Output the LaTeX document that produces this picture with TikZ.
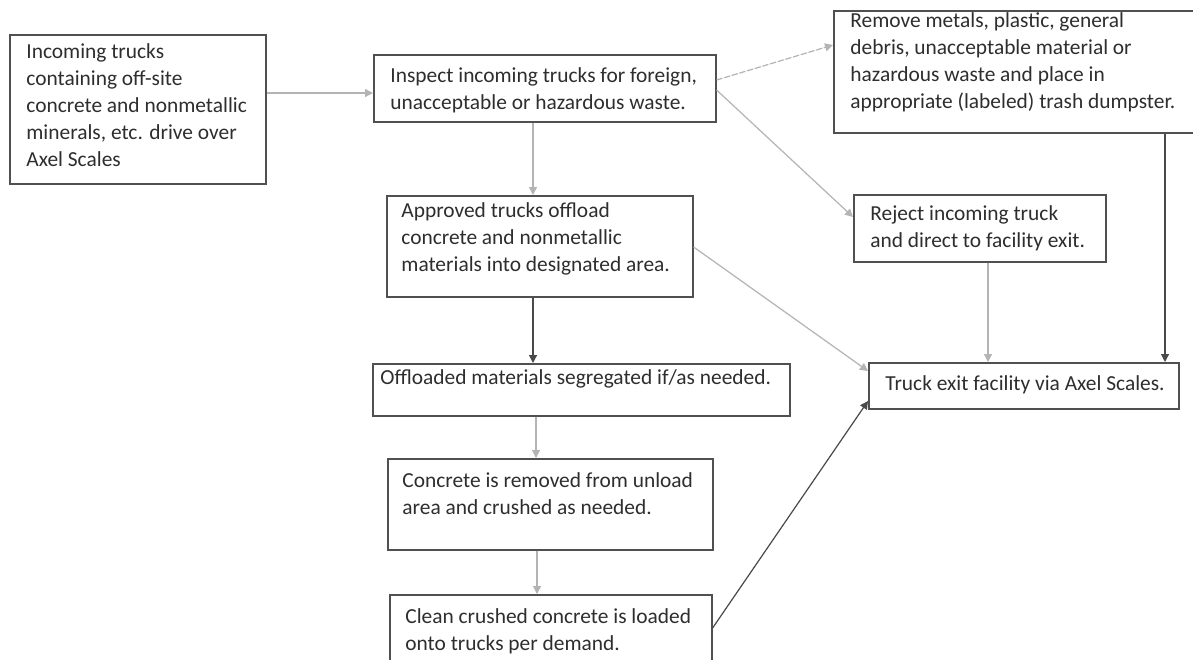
\documentclass[tikz,border=0pt]{standalone}
\usepackage{fontspec}
\setmainfont{Carlito}
\usetikzlibrary{arrows.meta}
\definecolor{boxc}{HTML}{505050}
\definecolor{txtc}{HTML}{2E2E2E}
\definecolor{lightc}{HTML}{B4B4B4}
\definecolor{darkc}{HTML}{4A4A4A}
\tikzset{
  stepbox/.style={draw=boxc, line width=0.8pt, rectangle, inner sep=0pt, anchor=north west},
  lbl/.style={anchor=north west, inner sep=0pt, align=left, text=txtc,
    font=\fontsize{10.7pt}{13.5pt}\selectfont},
  tipx/.style={-{Triangle[length=4pt,width=4pt]}},
  lt/.style={tipx, draw=lightc, fill=lightc, line width=0.6pt},
  dk/.style={tipx, draw=darkc, fill=darkc, line width=0.6pt},
}
\begin{document}
\begin{tikzpicture}[x=0.5pt,y=-0.5pt]
\useasboundingbox (0,0) rectangle (1193,659);
\fill[white] (0,0) rectangle (1193,659);
% boxes
\node[stepbox, minimum width=256*0.5pt, minimum height=149*0.5pt] (b1) at (9,34) {};
\node[stepbox, minimum width=342*0.5pt, minimum height=67*0.5pt] (b2) at (373,54) {};
\node[stepbox, minimum width=364*0.5pt, minimum height=122*0.5pt] (rem) at (833,10) {};
\node[stepbox, minimum width=252*0.5pt, minimum height=67*0.5pt] (rej) at (853,194) {};
\node[stepbox, minimum width=306*0.5pt, minimum height=101*0.5pt] (appr) at (386,195) {};
\node[stepbox, minimum width=417*0.5pt, minimum height=52*0.5pt] (off) at (372,363) {};
\node[stepbox, minimum width=325*0.5pt, minimum height=91*0.5pt] (conc) at (387,458) {};
\node[stepbox, minimum width=322*0.5pt, minimum height=76*0.5pt] (clean) at (389,594) {};
\node[stepbox, minimum width=310*0.5pt, minimum height=46*0.5pt] (exit) at (868,362) {};
% texts
\node[lbl] (t1) at (26,43) {Incoming trucks\\containing off-site\\concrete and nonmetallic\\minerals, etc. drive over\\Axel Scales};
\node[lbl] (t2) at (390,67) {Inspect incoming trucks for foreign,\\unacceptable or hazardous waste.};
\node[lbl] (trem) at (850,12) {Remove metals, plastic, general\\debris, unacceptable material or\\hazardous waste and place in\\appropriate (labeled) trash dumpster.};
\node[lbl] (trej) at (870,205) {Reject incoming truck\\and direct to facility exit.};
\node[lbl] (tappr) at (401,202) {Approved trucks offload\\concrete and nonmetallic\\materials into designated area.};
\node[lbl] (toff) at (380,369) {Offloaded materials segregated if/as needed.};
\node[lbl] (tconc) at (402,472) {Concrete is removed from unload\\area and crushed as needed.};
\node[lbl] (tclean) at (405,608) {Clean crushed concrete is loaded\\onto trucks per demand.};
\node[lbl] (texit) at (885,375) {Truck exit facility via Axel Scales.};
% connectors
\draw[lt] (b1.east |- 0,93) -- (b2.west |- 0,93);
\draw[lt] (b2.south -| 533,0) -- (appr.north -| 533,0);
\draw[lt, dashed, dash pattern=on 3pt off 1pt] (b2.east |- 0,80) -- (rem.west |- 0,45);
\draw[lt] (b2.east |- 0,90) -- (rej.west |- 0,217);
\draw[dk] (rem.south -| 1165,0) -- (exit.north -| 1165,0);
\draw[lt] (rej.south -| 988,0) -- (exit.north -| 988,0);
\draw[dk] (appr.south -| 533,0) -- (off.north -| 533,0);
\draw[lt] (appr.east |- 0,247) -- (exit.west |- 0,371);
\draw[lt] (off.south -| 536,0) -- (conc.north -| 536,0);
\draw[lt] (conc.south -| 537,0) -- (clean.north -| 537,0);
\draw[dk] (clean.east |- 0,628) -- (exit.west |- 0,401);
\end{tikzpicture}
\end{document}
